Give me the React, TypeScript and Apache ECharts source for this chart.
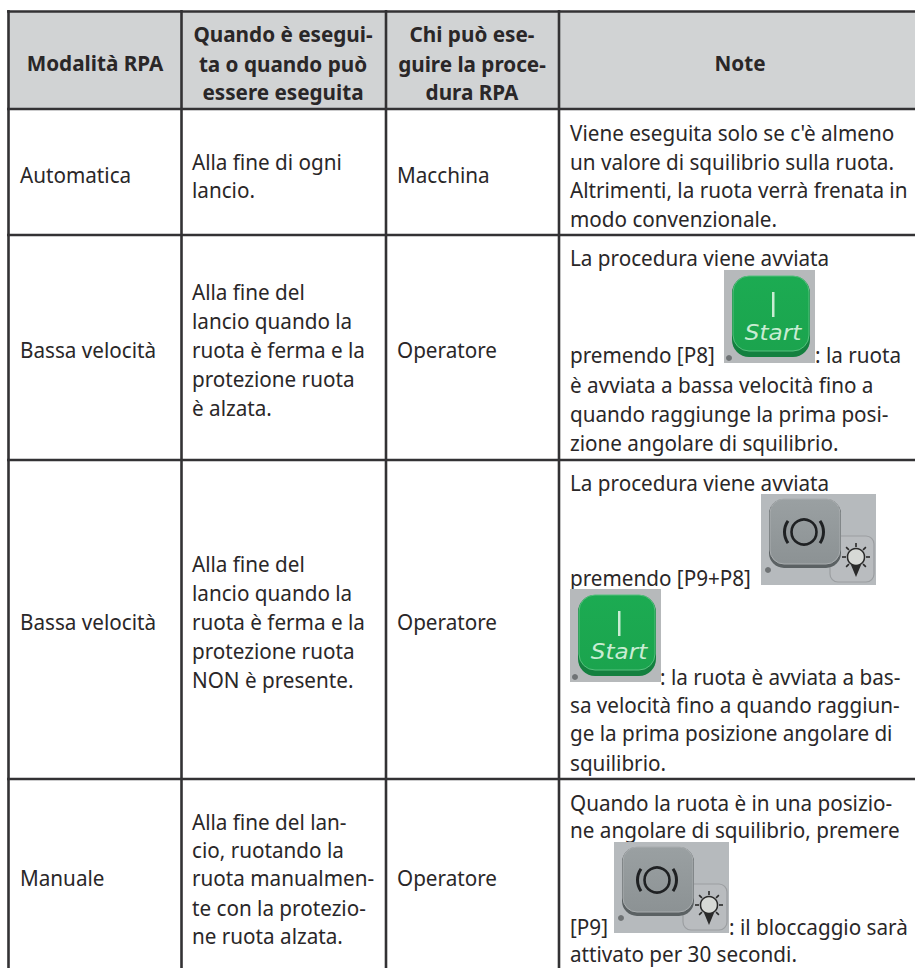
import React, { useEffect, useRef } from "react";
import * as echarts from "echarts";

const headerCol1 = ["Modalità RPA"];
const headerCol2 = ["Quando è esegui-", "ta o quando può", "essere eseguita"];
const headerCol3 = ["Chi può ese-", "guire la proce-", "dura RPA"];
const headerCol4 = ["Note"];

const modes = ["Automatica", "Bassa velocità", "Bassa velocità", "Manuale"];
const performers = ["Macchina", "Operatore", "Operatore", "Operatore"];

const when1 = ["Alla fine di ogni", "lancio."];
const when2 = ["Alla fine del", "lancio quando la", "ruota è ferma e la", "protezione ruota", "è alzata."];
const when3 = ["Alla fine del", "lancio quando la", "ruota è ferma e la", "protezione ruota", "NON è presente."];
const when4 = ["Alla fine del lan-", "cio, ruotando la", "ruota manualmen-", "te con la protezio-", "ne ruota alzata."];

const note1 = ["Viene eseguita solo se c'è almeno", "un valore di squilibrio sulla ruota.", "Altrimenti, la ruota verrà frenata in", "modo convenzionale."];
const note2 = ["La procedura viene avviata", "premendo [P8]", ": la ruota", "è avviata a bassa velocità fino a", "quando raggiunge la prima posi-", "zione angolare di squilibrio."];
const note3 = ["La procedura viene avviata", "premendo [P9+P8]", ": la ruota è avviata a bas-", "sa velocità fino a quando raggiun-", "ge la prima posizione angolare di", "squilibrio."];
const note4 = ["Quando la ruota è in una posizio-", "ne angolare di squilibrio, premere", "[P9]", ": il bloccaggio sarà", "attivato per 30 secondi."];

const FONT = "Noto Sans";
const INK = "#2a2728";
const RULE = "#333234";
const BODY_SIZE = 21;
const HEAD_SIZE = 20.7;
const SQUEEZE = 0.985;

function txt(text: string, x: number, y: number, bold = false, align = "left") {
  return {
    type: "text",
    x,
    y,
    scaleX: bold ? 1 : SQUEEZE,
    silent: true,
    style: {
      text,
      fontFamily: FONT,
      fontSize: bold ? HEAD_SIZE : BODY_SIZE,
      fontWeight: bold ? 700 : 400,
      fill: INK,
      textAlign: align,
      textVerticalAlign: "middle",
    },
  };
}

function lines(list: string[], ys: number[], x: number, bold = false, align = "left") {
  return list.map((t, i) => txt(t, x, ys[i], bold, align));
}

function rule(x1: number, y1: number, x2: number, y2: number) {
  return { type: "line", shape: { x1, y1, x2, y2 }, style: { stroke: RULE, lineWidth: 2.6 }, silent: true };
}

function vGrad(a: string, b: string) {
  return new echarts.graphic.LinearGradient(0, 0, 0, 1, [
    { offset: 0, color: a },
    { offset: 1, color: b },
  ]);
}

function startIcon(x: number, y: number) {
  return {
    type: "group",
    x,
    y,
    children: [
      { type: "rect", shape: { x: 0, y: 0, width: 91, height: 93 }, style: { fill: "#b6b9bb" } },
      { type: "rect", shape: { x: 8, y: 6, width: 78, height: 81, r: 17 }, style: { fill: "#14803f" } },
      { type: "rect", shape: { x: 9, y: 6, width: 76, height: 75, r: 16 }, style: { fill: vGrad("#1cab52", "#1ba44e"), stroke: "#57c07e", lineWidth: 1 } },
      { type: "rect", shape: { x: 48, y: 22, width: 2.5, height: 25 }, style: { fill: "#c9ecd3" } },
      {
        type: "text",
        x: 49,
        y: 63,
        scaleX: 1.1,
        style: { text: "Start", fontFamily: "DejaVu Sans", fontStyle: "italic", fontSize: 21, fill: "#c9ecd3", textAlign: "center", textVerticalAlign: "middle" },
      },
      { type: "circle", shape: { cx: 5, cy: 88, r: 3 }, style: { fill: "#6f7375" } },
    ],
  };
}

function brakeIcon(x: number, y: number) {
  const rays = [0, 45, 90, 135, 180, 225, 315].map((d) => {
    const a = (d * Math.PI) / 180;
    return {
      type: "line",
      shape: { x1: 95 + 10 * Math.cos(a), y1: 63 - 10 * Math.sin(a), x2: 95 + 14 * Math.cos(a), y2: 63 - 14 * Math.sin(a) },
      style: { stroke: "#2a2a2a", lineWidth: 1.6 },
    };
  });
  return {
    type: "group",
    x,
    y,
    children: [
      { type: "rect", shape: { x: 0, y: 0, width: 115, height: 91 }, style: { fill: "#b6babd" } },
      { type: "rect", shape: { x: 69, y: 42, width: 44, height: 46, r: 8 }, style: { fill: "#b9bcbf", stroke: "#9b9ea1", lineWidth: 1.2 } },
      { type: "rect", shape: { x: 8, y: 5, width: 72, height: 69, r: 15 }, style: { fill: "#5b6163" } },
      { type: "rect", shape: { x: 9, y: 5, width: 70, height: 65, r: 14 }, style: { fill: vGrad("#9aa0a2", "#8c9294"), stroke: "#a9adaf", lineWidth: 1 } },
      { type: "circle", shape: { cx: 43, cy: 38, r: 12.5 }, style: { fill: "none", stroke: "#1f2123", lineWidth: 2.6 } },
      { type: "arc", shape: { cx: 43, cy: 38, r: 19.5, startAngle: (Math.PI * 145) / 180, endAngle: (Math.PI * 215) / 180 }, style: { fill: "none", stroke: "#1f2123", lineWidth: 3 } },
      { type: "arc", shape: { cx: 43, cy: 38, r: 19.5, startAngle: (-Math.PI * 35) / 180, endAngle: (Math.PI * 35) / 180 }, style: { fill: "none", stroke: "#1f2123", lineWidth: 3 } },
      ...rays,
      { type: "circle", shape: { cx: 95, cy: 63, r: 8.5 }, style: { fill: "#d7d9d6", stroke: "#2a2a2a", lineWidth: 1.5 } },
      { type: "polygon", shape: { points: [[90, 71], [100, 71], [95, 83]] }, style: { fill: "#2a2a2a" } },
      { type: "circle", shape: { cx: 7, cy: 76, r: 3 }, style: { fill: "#6f7375" } },
    ],
  };
}

export default function App() {
  const ref = useRef<HTMLDivElement>(null);
  useEffect(() => {
    const chart = echarts.init(ref.current!, undefined, { renderer: "svg" });
    const headerY = [34, 63.5, 92];
    const graphic: any[] = [
      { type: "rect", shape: { x: 8, y: 11, width: 907, height: 98 }, style: { fill: "#d1d3d4" }, silent: true },
      ...[8.5, 181.5, 386, 559].map((x) => rule(x, 10, x, 968)),
      ...[11.5, 109, 235, 460, 779].map((y) => rule(7, y, 915, y)),
      txt(headerCol1[0], 95, 63, true, "center"),
      ...lines(headerCol2, headerY, 283, true, "center"),
      ...lines(headerCol3, headerY, 472, true, "center"),
      txt(headerCol4[0], 740, 63, true, "center"),

      txt(modes[0], 20, 175),
      txt(modes[1], 20, 350),
      txt(modes[2], 20, 622),
      txt(modes[3], 20, 878),

      ...lines(when1, [162, 190], 192),
      ...lines(when2, [292, 321, 350, 379, 408], 192),
      ...lines(when3, [564, 593, 622, 651, 680], 192),
      ...lines(when4, [822, 850, 878, 908, 936], 192),

      txt(performers[0], 397, 175),
      txt(performers[1], 397, 350),
      txt(performers[2], 397, 622),
      txt(performers[3], 397, 878),

      ...lines(note1, [133, 162, 190, 219], 570),

      txt(note2[0], 570, 258),
      txt(note2[1], 570, 355),
      startIcon(724, 270),
      txt(note2[2], 815, 355),
      ...lines(note2.slice(3), [385, 414, 443], 570),

      txt(note3[0], 570, 483),
      txt(note3[1], 570, 578),
      brakeIcon(761, 494),
      startIcon(570, 589),
      txt(note3[2], 660, 677),
      ...lines(note3.slice(3), [705, 733, 763], 570),

      ...lines(note4.slice(0, 2), [803, 830], 570),
      brakeIcon(614, 842),
      txt(note4[2], 570, 927),
      txt(note4[3], 729, 927),
      txt(note4[4], 570, 954),
    ];
    chart.setOption({ animation: false, backgroundColor: "#ffffff", graphic });
    return () => chart.dispose();
  }, []);
  return <div ref={ref} style={{ position: "absolute", left: 0, top: 0, width: 915, height: 968 }} />;
}
